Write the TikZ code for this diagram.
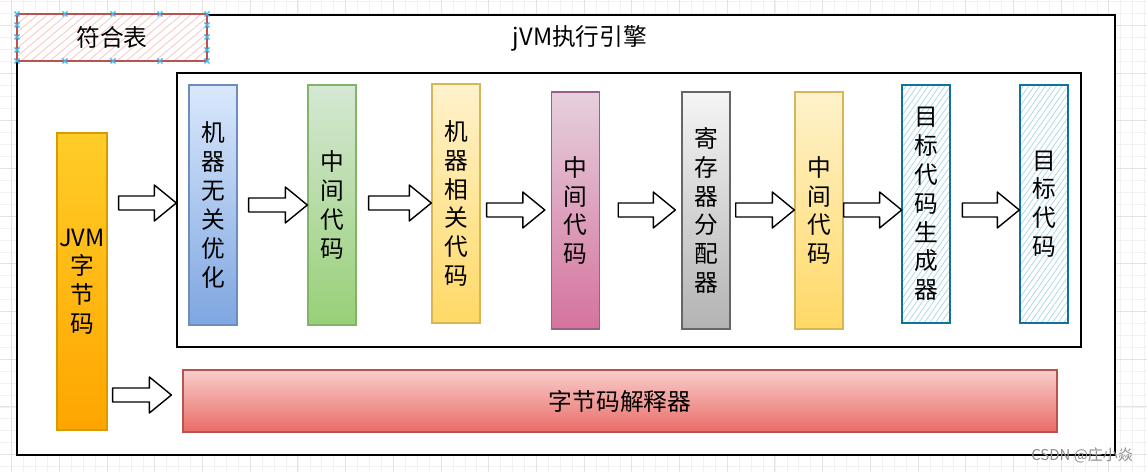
\documentclass[tikz,border=0pt]{standalone}
\usepackage{fontspec}
\setmainfont{Noto Sans CJK SC}
\usetikzlibrary{positioning,calc,patterns.meta}

\definecolor{jvmtop}{HTML}{FFCD28}
\definecolor{jvmbot}{HTML}{FFA500}
\definecolor{jvmline}{HTML}{D79B00}
\definecolor{bluetop}{HTML}{DAE8FC}
\definecolor{bluebot}{HTML}{7EA6E0}
\definecolor{blueline}{HTML}{6C8EBF}
\definecolor{greentop}{HTML}{D5E8D4}
\definecolor{greenbot}{HTML}{97D077}
\definecolor{greenline}{HTML}{82B366}
\definecolor{yellowtop}{HTML}{FFF2CC}
\definecolor{yellowbot}{HTML}{FFD966}
\definecolor{yellowline}{HTML}{D6B656}
\definecolor{pinktop}{HTML}{E6D0DE}
\definecolor{pinkbot}{HTML}{D5739D}
\definecolor{pinkline}{HTML}{996185}
\definecolor{greytop}{HTML}{F5F5F5}
\definecolor{greybot}{HTML}{B3B3B3}
\definecolor{greyline}{HTML}{666666}
\definecolor{redtop}{HTML}{F8CECC}
\definecolor{redbot}{HTML}{EA6B66}
\definecolor{redline}{HTML}{B85450}
\definecolor{hatchblue}{HTML}{A9D5EC}
\definecolor{tealline}{HTML}{10739E}
\definecolor{hatchpink}{HTML}{F3C2BF}
\definecolor{handleblue}{HTML}{3DB5EE}

\newcommand{\stagefont}{\fontsize{13.5}{16.4}\selectfont}
\newcommand{\blockarrow}[5]{%
    \coordinate (ba-s) at ($(#1.east |- 0,#3)+(#4,0)$);
    \coordinate (ba-e) at ($(#2.west |- 0,#3)+(-#5,0)$);
    \draw[blockarr] ($(ba-s)+(0,-7)$) -- ($(ba-e)+(-22,-7)$) -- ($(ba-e)+(-22,-18)$) -- (ba-e)
        -- ($(ba-e)+(-22,18)$) -- ($(ba-e)+(-22,7)$) -- ($(ba-s)+(0,7)$) -- cycle;
}

\tikzset{
    gridminor/.style={
        draw=black!5,
        line width=0.4pt
    },
    gridmajor/.style={
        draw=black!11,
        line width=0.5pt
    },
    frame/.style={
        rectangle,
        draw=black,
        fill=white,
        line width=1pt,
        inner sep=0pt
    },
    stage/.style={
        rectangle,
        draw,
        line width=0.8pt,
        minimum width=0.96cm,
        align=center,
        inner sep=0pt,
        font=\stagefont
    },
    hatched/.style={
        stage,
        draw=tealline,
        preaction={fill=white},
        pattern={Lines[angle=55,distance=2.6pt,line width=0.4pt]},
        pattern color=hatchblue
    },
    legendbox/.style={
        rectangle,
        draw=redline,
        line width=1pt,
        preaction={fill=white},
        pattern={Lines[angle=40,distance=3.5pt,line width=0.4pt]},
        pattern color=hatchpink,
        font=\stagefont
    },
    blockarr/.style={
        draw=black,
        fill=white,
        line width=0.8pt,
        line join=round
    },
    handle/.style={
        draw=handleblue,
        line width=0.7pt
    },
    titletext/.style={
        font=\stagefont
    }
}

\begin{document}
\begin{tikzpicture}[x=0.02cm, y=-0.02cm]
    \useasboundingbox[fill=white] (0,0) rectangle (1147,472);
    \foreach \i in {0,...,96}
        \draw[gridminor] ({-0.2+11.925*\i},0) -- ++(0,472);
    \foreach \j in {0,...,39}
        \draw[gridminor] (0,{1.45+11.925*\j}) -- ++(1147,0);
    \foreach \i in {0,...,23}
        \draw[gridmajor] ({11.7+47.7*\i},0) -- ++(0,472);
    \foreach \j in {0,...,9}
        \draw[gridmajor] (0,{25.3+47.7*\j}) -- ++(1147,0);

    \node[frame, minimum width=21.96cm, minimum height=8.8cm] (engine) at (566,235) {};
    \node[titletext] (title) at (580,38) {jVM执行引擎};
    \node[legendbox, minimum width=3.8cm, minimum height=0.94cm] (legend) at (112,37.5) {符合表};
    \node[frame, line width=0.9pt, minimum width=18.08cm, minimum height=5.48cm] (jit) at (629,210) {};

    \node[stage, minimum width=1cm, minimum height=5.94cm, top color=jvmtop, bottom color=jvmbot, draw=jvmline] (bytecode) at (82,281.5) {JVM\\字\\节\\码};
    \node[stage, minimum height=4.8cm, top color=bluetop, bottom color=bluebot, draw=blueline] (indepopt) at (213,205) {机\\器\\无\\关\\优\\化};
    \node[stage, minimum height=4.8cm, top color=greentop, bottom color=greenbot, draw=greenline] (ir1) at (332,205) {中\\间\\代\\码};
    \node[stage, minimum height=4.78cm, top color=yellowtop, bottom color=yellowbot, draw=yellowline] (depcode) at (456,203.5) {机\\器\\相\\关\\代\\码};
    \node[stage, minimum height=4.74cm, top color=pinktop, bottom color=pinkbot, draw=pinkline] (ir2) at (575.5,210.5) {中\\间\\代\\码};
    \node[stage, minimum height=4.74cm, top color=greytop, bottom color=greybot, draw=greyline] (regalloc) at (706,210.5) {寄\\存\\器\\分\\配\\器};
    \node[stage, minimum height=4.74cm, top color=yellowtop, bottom color=yellowbot, draw=yellowline] (ir3) at (819,210.5) {中\\间\\代\\码};
    \node[hatched, minimum height=4.76cm] (codegen) at (926,204) {目\\标\\代\\码\\生\\成\\器};
    \node[hatched, minimum height=4.76cm] (target) at (1044,204) {目\\标\\代\\码};
    \node[stage, minimum width=17.48cm, minimum height=1.24cm, top color=redtop, bottom color=redbot, draw=redline] (interp) at (620,401) {字节码解释器};

    \blockarrow{bytecode}{jit}{203}{11}{0}
    \blockarrow{indepopt}{ir1}{205}{11}{0}
    \blockarrow{ir1}{depcode}{203}{12}{0}
    \blockarrow{depcode}{ir2}{210}{6}{6}
    \blockarrow{ir2}{regalloc}{210}{18}{6}
    \blockarrow{regalloc}{ir3}{210}{5}{0}
    \blockarrow{ir3}{codegen}{210}{0}{0}
    \blockarrow{codegen}{target}{210}{12}{0}
    \blockarrow{bytecode}{interp}{395}{5}{11}

    \foreach \x/\y in {17/14, 65/14, 113/14, 160/14, 207/14, 17/61, 65/61, 113/61, 160/61, 207/61,
                       17/25, 17/37, 17/50, 207/25, 207/37, 207/50}
        \draw[handle] (\x,\y) +(-2.5,-2.5) -- +(2.5,2.5) +(-2.5,2.5) -- +(2.5,-2.5);

    \node[text=black!45, font=\fontsize{8.5}{10}\selectfont] (mark) at (1082,455) {CSDN @庄小焱};
\end{tikzpicture}
\end{document}
